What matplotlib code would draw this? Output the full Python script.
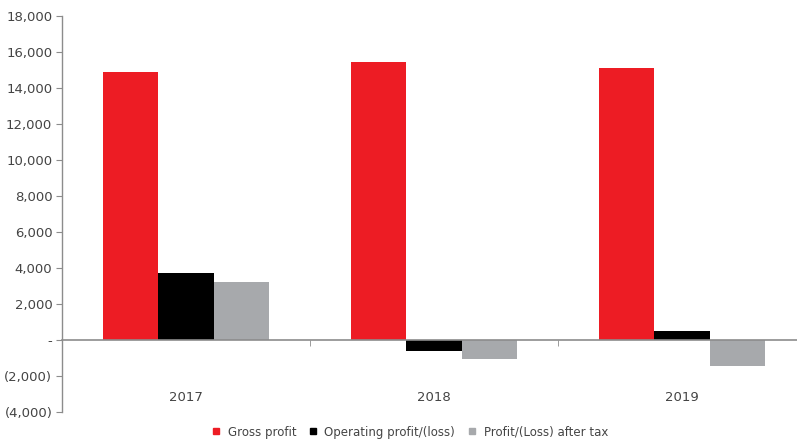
import matplotlib.pyplot as plt
from matplotlib.lines import Line2D
from matplotlib.ticker import FuncFormatter
import numpy as np

years = ['2017', '2018', '2019']
gross_profit = [14900, 15450, 15100]
operating_profit = [3750, -610, 500]
profit_after_tax = [3200, -1050, -1430]

series = [
    ('Gross profit', gross_profit, '#ED1C24'),
    ('Operating profit/(loss)', operating_profit, '#000000'),
    ('Profit/(Loss) after tax', profit_after_tax, '#A7A9AC'),
]

text_color = '#444444'
axis_color = '#8C8C8C'


def fmt_thousands(v, pos):
    if v == 0:
        return '-'
    if v < 0:
        return '({:,.0f})'.format(-v)
    return '{:,.0f}'.format(v)


fig = plt.figure(figsize=(7.97, 4.44), dpi=100)
ax = fig.add_axes([62 / 797, 32 / 444, 744 / 797, 396 / 444])

x = np.arange(len(years))
width = 0.224
for i, (name, values, color) in enumerate(series):
    ax.bar(x + (i - 1) * width, values, width, color=color, label=name)

ax.set_xlim(-0.5, 2.5)
ax.set_ylim(-4000, 18000)
ax.set_yticks(np.arange(-4000, 18001, 2000))
ax.yaxis.set_major_formatter(FuncFormatter(fmt_thousands))

for side in ['top', 'right']:
    ax.spines[side].set_visible(False)
ax.spines['bottom'].set_position(('data', 0))
ax.spines['bottom'].set_color(axis_color)
ax.spines['left'].set_color(axis_color)
ax.spines['bottom'].set_linewidth(1.2)
ax.spines['left'].set_linewidth(1.0)

ax.set_xticks(x)
ax.set_xticklabels(years)
ax.set_xticks([0.5, 1.5], minor=True)
ax.tick_params(axis='x', which='major', length=0, pad=37, labelsize=9.5,
               labelcolor=text_color)
ax.tick_params(axis='x', which='minor', length=4, direction='out',
               color=axis_color)
ax.tick_params(axis='y', length=4, direction='out', color=axis_color,
               labelsize=9.5, labelcolor=text_color, pad=3)

handles = [Line2D([0], [0], marker='s', linestyle='none', markersize=5,
                  markerfacecolor=c, markeredgecolor=c) for _, _, c in series]
fig.legend(handles, [s[0] for s in series], loc='center',
           bbox_to_anchor=(0.513, 1 - 432 / 444), ncol=3, frameon=False,
           fontsize=8.5, labelcolor=text_color, handletextpad=0.5,
           columnspacing=0.9, handlelength=1.0)

fig.savefig('out.png', dpi=100)
